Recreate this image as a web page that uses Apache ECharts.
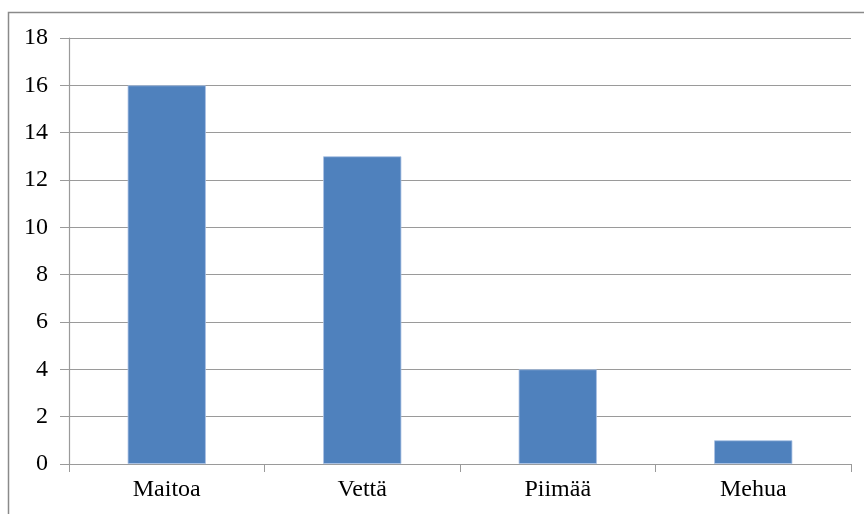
<!DOCTYPE html>
<html>
<head>
<meta charset="utf-8">
<script src="https://cdn.jsdelivr.net/npm/echarts@6/dist/echarts.min.js"></script>
<style>
  html, body { margin: 0; padding: 0; background: #fff; }
  #chart { width: 864px; height: 514px; }
</style>
</head>
<body>
<div id="chart"></div>
<script>
// Drinks and how many chose each
const categories = ['Maitoa', 'Vettä', 'Piimää', 'Mehua'];
const counts = [16, 13, 4, 1];
const yTicks = { min: 0, max: 18, step: 2 };

const gray = '#9a9a9a';
const chart = echarts.init(document.getElementById('chart'), null, { renderer: 'canvas' });

chart.setOption({
  animation: false,
  backgroundColor: '#ffffff',
  textStyle: { fontFamily: 'Liberation Serif' },
  graphic: [{
    type: 'rect',
    shape: { x: 8.5, y: 12.5, width: 1000, height: 1000 },
    style: { fill: 'none', stroke: '#8a8a8a', lineWidth: 1.5 },
    silent: true
  }],
  grid: { left: 69, right: 13, top: 38, bottom: 50, containLabel: false },
  xAxis: {
    type: 'category',
    data: categories,
    axisLine: { lineStyle: { color: gray, width: 1.2 } },
    axisTick: { show: true, length: 8, alignWithLabel: false, lineStyle: { color: gray } },
    axisLabel: { color: '#000', fontSize: 24, fontFamily: 'Liberation Serif', margin: 14 },
    splitLine: { show: false }
  },
  yAxis: {
    type: 'value',
    min: yTicks.min,
    max: yTicks.max,
    interval: yTicks.step,
    axisLine: { show: true, lineStyle: { color: gray, width: 1.2 } },
    axisTick: { show: true, length: 9, lineStyle: { color: gray } },
    axisLabel: { color: '#000', fontSize: 24, fontFamily: 'Liberation Serif', margin: 21 },
    splitLine: { show: true, lineStyle: { color: gray, width: 1.2 } }
  },
  series: [{
    type: 'bar',
    data: counts,
    barWidth: '40%',
    itemStyle: { color: '#4f81bd', borderColor: '#a9c2e3', borderWidth: 0.8 }
  }]
});
</script>
</body>
</html>
